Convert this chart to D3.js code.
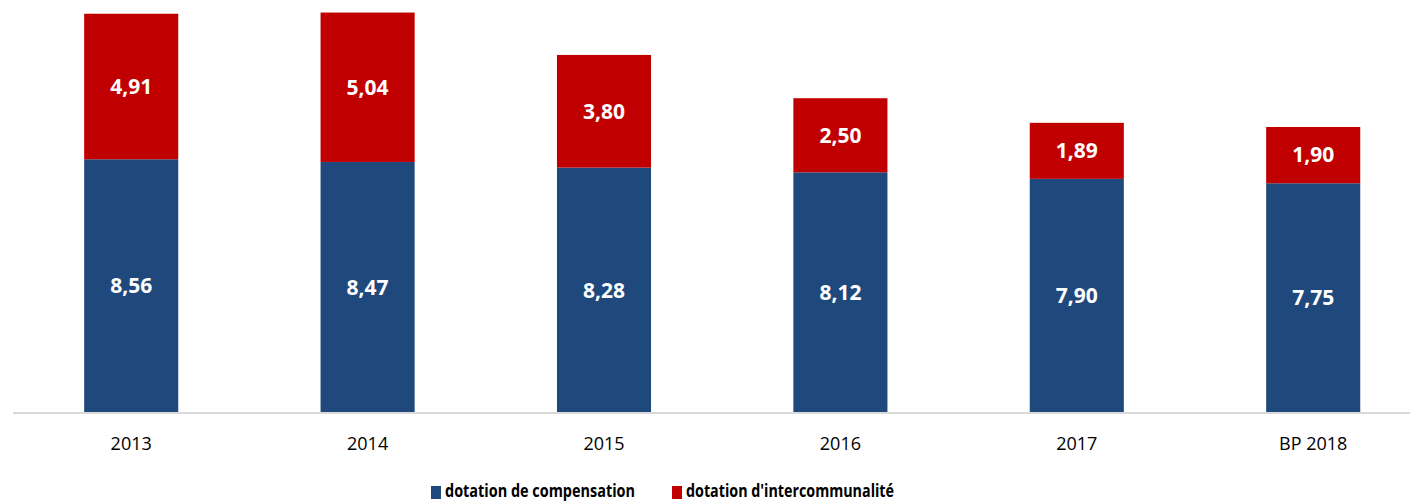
<!DOCTYPE html>
<html>
<head>
<meta charset="utf-8">
<script src="https://cdn.jsdelivr.net/npm/d3@7"></script>
<style>
  body { margin: 0; background: #fff; }
  svg { display: block; font-family: "Open Sans", "Liberation Sans", sans-serif; }
</style>
</head>
<body>
<div id="chart"></div>
<script>
const years = ['2013', '2014', '2015', '2016', '2017', 'BP 2018']
const compensation = [8.56, 8.47, 8.28, 8.12, 7.90, 7.75]
const intercommunalite = [4.91, 5.04, 3.80, 2.50, 1.89, 1.90]
const seriesNames = ['dotation de compensation', "dotation d'intercommunalité"]
const colors = ['#1F497D', '#C00000']

const W = 1410, H = 501
const baseY = 413

var rows = years.map(function (y, i) {
  return { year: y, compensation: compensation[i], intercommunalite: intercommunalite[i] }
})
var stack = d3.stack().keys(['compensation', 'intercommunalite'])(rows)

var x = d3.scaleBand()
  .domain(years)
  .range([13, 13 + 6 * 236.4])
  .paddingInner(0.602)
  .paddingOuter(0.301)

var y = d3.scaleLinear()
  .domain([0, 1])
  .range([baseY, baseY - 29.64])

var svg = d3.select('#chart').append('svg')
  .attr('width', W)
  .attr('height', H)

var layers = svg.selectAll('g.layer')
  .data(stack)
  .enter().append('g')
  .attr('class', 'layer')
  .attr('fill', function (d, i) { return colors[i] })

layers.selectAll('rect')
  .data(function (d) { return d })
  .enter().append('rect')
  .attr('x', function (d) { return x(d.data.year) })
  .attr('width', x.bandwidth())
  .attr('y', function (d) { return y(d[1]) })
  .attr('height', function (d) { return y(d[0]) - y(d[1]) })

layers.selectAll('text')
  .data(function (d) { return d })
  .enter().append('text')
  .attr('x', function (d) { return x(d.data.year) + x.bandwidth() / 2 })
  .attr('y', function (d) { return (y(d[0]) + y(d[1])) / 2 })
  .attr('dy', '0.35em')
  .attr('text-anchor', 'middle')
  .attr('fill', '#fff')
  .attr('font-weight', 'bold')
  .attr('font-size', 21)
  .text(function (d) { return d3.format('.2f')(d[1] - d[0]).replace('.', ',') })

// axis
var xAxis = d3.axisBottom(x).tickSize(0).tickPadding(24)
var ax = svg.append('g')
  .attr('transform', 'translate(0,' + baseY + ')')
  .call(xAxis)
ax.select('.domain').remove()
ax.append('line')
  .attr('x1', 13).attr('x2', W)
  .attr('stroke', '#D9D9D9').attr('stroke-width', 2)
ax.selectAll('text')
  .attr('font-size', 18)
  .attr('fill', '#000')
  .style('font-family', '"Open Sans", "Liberation Sans", sans-serif')

// legend
var legendX = [431, 672]
var legendW = [190, 208]
var legend = svg.selectAll('g.legend')
  .data(seriesNames)
  .enter().append('g')
  .attr('class', 'legend')
  .attr('transform', function (d, i) { return 'translate(' + legendX[i] + ',486)' })
legend.append('rect')
  .attr('width', 10).attr('height', 13)
  .attr('fill', function (d, i) { return colors[i] })
legend.append('text')
  .attr('x', 14)
  .attr('y', 11)
  .attr('font-size', 17)
  .attr('font-weight', 'bold')
  .attr('fill', '#000')
  .attr('textLength', function (d, i) { return legendW[i] })
  .attr('lengthAdjust', 'spacingAndGlyphs')
  .text(function (d) { return d })
</script>
</body>
</html>
